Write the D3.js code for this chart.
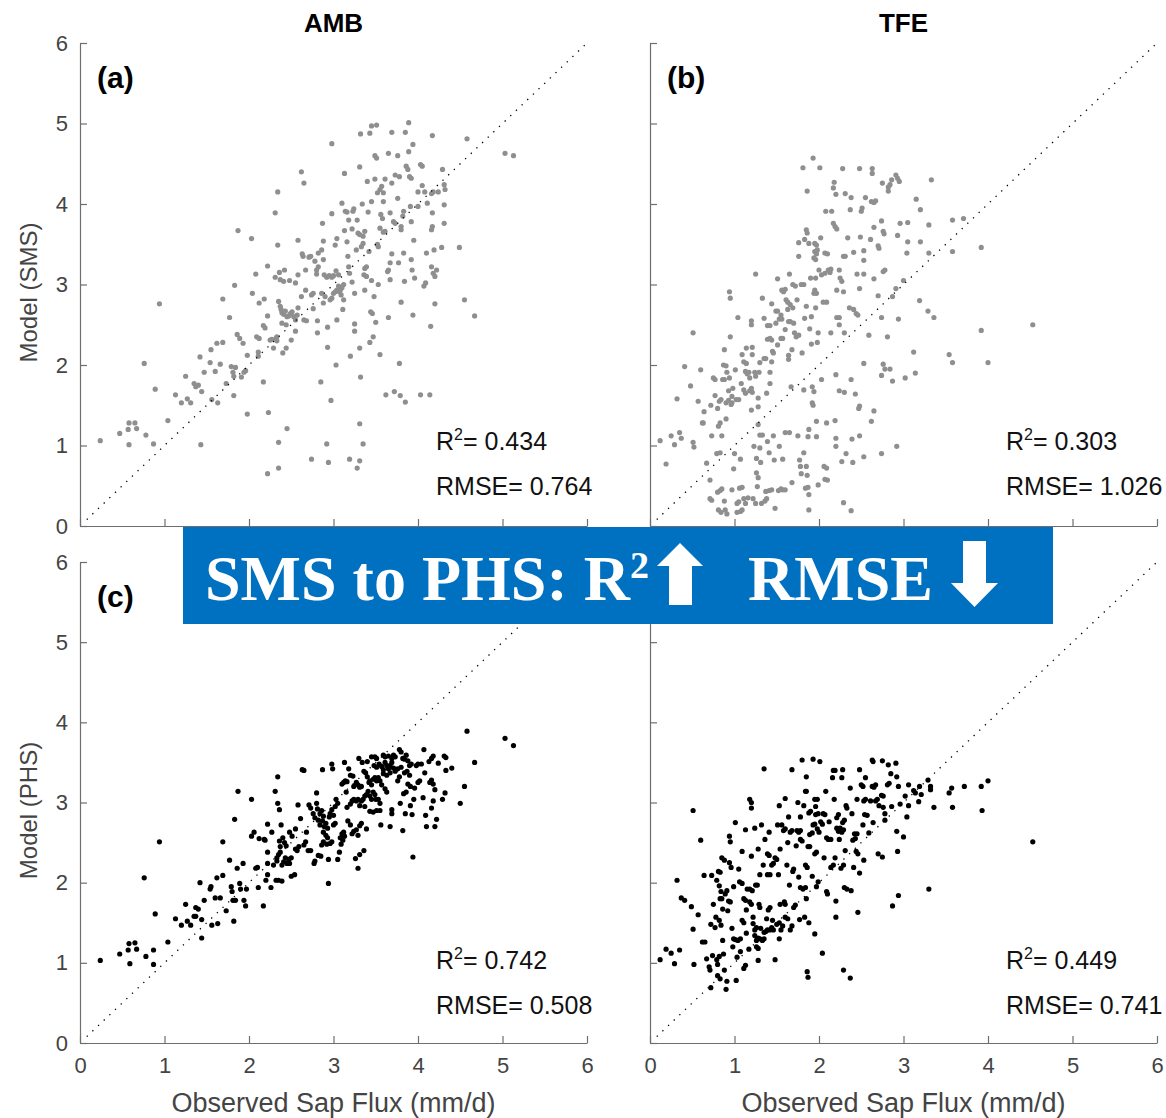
<!DOCTYPE html>
<html>
<head>
<meta charset="utf-8">
<script src="https://cdn.jsdelivr.net/npm/d3@7"></script>
<style>
  body { margin: 0; background: #fff; }
  svg { display: block; font-family: "Liberation Sans", Arial, sans-serif; }
</style>
</head>
<body>
<div id="chart"></div>
<script>
// Observed sap flux (x) vs model (y), mm/d
var ambSMS = [[0.24,1.06],[0.47,1.15],[0.58,1.28],[0.65,1.28],[0.57,1.20],[0.67,1.21],[0.58,1.01],[0.78,1.13],[0.87,1.02],[0.76,2.02],[0.89,1.70],[0.94,2.76],[1.04,1.31],[1.13,1.63],[1.20,1.53],[1.27,1.58],[1.31,1.53],[1.25,1.86],[1.35,1.77],[1.40,1.75],[1.37,1.73],[1.42,2.10],[1.44,1.67],[1.43,1.01],[1.47,1.91],[1.54,2.03],[1.55,2.19],[1.56,1.57],[1.60,1.92],[1.62,2.27],[1.63,1.53],[1.66,2.01],[1.69,2.28],[1.69,2.82],[1.73,1.77],[1.77,2.59],[1.79,1.98],[1.81,1.91],[1.84,1.97],[1.82,1.86],[1.82,1.62],[1.83,2.99],[1.86,2.38],[1.87,3.67],[1.89,2.33],[1.91,1.85],[1.94,1.91],[1.96,1.93],[1.93,2.27],[1.98,2.12],[1.98,1.39],[2.03,3.57],[2.04,2.89],[2.08,3.13],[2.11,2.11],[2.11,2.16],[2.09,2.35],[2.12,2.33],[2.12,2.77],[2.17,1.79],[2.17,2.49],[2.19,2.46],[2.18,2.82],[2.22,3.23],[2.22,0.65],[2.23,1.41],[2.22,2.61],[2.25,2.31],[2.27,2.32],[2.29,2.21],[2.31,3.89],[2.32,2.33],[2.33,2.35],[2.33,2.30],[2.34,4.15],[2.34,3.49],[2.35,1.04],[2.35,0.72],[2.31,3.09],[2.36,3.15],[2.42,3.18],[2.35,2.79],[2.37,2.73],[2.38,2.69],[2.39,2.65],[2.41,2.63],[2.43,2.67],[2.45,2.60],[2.47,2.61],[2.49,2.64],[2.51,2.66],[2.53,2.60],[2.55,2.56],[2.57,2.62],[2.58,2.71],[2.40,2.15],[2.44,2.21],[2.39,2.52],[2.44,2.50],[2.45,1.21],[2.37,3.06],[2.41,3.04],[2.48,3.05],[2.50,2.31],[2.55,2.42],[2.55,3.02],[2.58,3.12],[2.58,3.55],[2.63,3.38],[2.64,3.35],[2.62,4.40],[2.65,4.26],[2.62,2.85],[2.65,2.56],[2.68,2.55],[2.67,2.93],[2.67,3.18],[2.71,3.34],[2.73,3.35],[2.74,2.87],[2.76,2.89],[2.74,0.83],[2.76,2.70],[2.78,3.29],[2.80,3.18],[2.82,3.22],[2.80,3.13],[2.81,2.55],[2.81,2.40],[2.82,3.39],[2.86,3.43],[2.88,3.31],[2.85,1.79],[2.86,2.89],[2.87,3.76],[2.88,3.54],[2.88,2.77],[2.90,2.85],[2.89,3.12],[2.92,3.09],[2.95,3.11],[2.98,3.09],[3.00,3.11],[3.03,3.17],[3.06,3.12],[2.92,1.02],[2.93,2.22],[2.93,2.47],[2.94,0.79],[2.96,2.81],[2.98,2.83],[3.00,2.89],[3.02,2.91],[3.04,2.93],[3.06,2.98],[3.08,2.93],[3.10,2.96],[3.12,3.00],[2.97,1.56],[2.98,3.88],[2.98,4.75],[3.03,2.00],[3.04,3.57],[3.02,3.49],[3.04,2.56],[3.07,2.91],[3.09,2.87],[3.10,4.01],[3.11,2.69],[3.13,4.38],[3.12,2.81],[3.13,3.67],[3.14,3.91],[3.16,3.90],[3.16,3.53],[3.17,3.35],[3.18,3.22],[3.19,3.14],[3.18,3.80],[3.19,0.83],[3.20,2.11],[3.22,3.03],[3.22,3.69],[3.23,3.91],[3.24,3.94],[3.25,2.51],[3.25,2.89],[3.25,2.42],[3.27,3.43],[3.29,3.64],[3.31,3.62],[3.35,3.60],[3.37,3.66],[3.33,3.47],[3.35,3.51],[3.28,3.80],[3.28,0.72],[3.31,4.46],[3.31,1.27],[3.31,2.21],[3.31,0.81],[3.32,4.87],[3.32,1.85],[3.34,4.00],[3.35,1.02],[3.36,3.12],[3.39,3.10],[3.37,3.20],[3.39,3.22],[3.37,2.93],[3.40,4.28],[3.41,3.90],[3.42,3.41],[3.43,4.88],[3.43,2.28],[3.44,2.66],[3.46,2.64],[3.45,4.03],[3.45,3.05],[3.45,4.97],[3.47,2.35],[3.48,2.85],[3.49,4.60],[3.51,4.57],[3.49,4.31],[3.50,2.53],[3.51,4.98],[3.52,4.14],[3.52,3.50],[3.53,3.47],[3.53,3.00],[3.55,3.70],[3.55,4.18],[3.57,4.22],[3.59,4.14],[3.55,2.13],[3.56,3.87],[3.58,3.82],[3.59,3.65],[3.61,3.66],[3.59,4.03],[3.61,4.31],[3.62,1.63],[3.64,3.16],[3.65,3.18],[3.65,4.63],[3.65,2.59],[3.67,3.06],[3.67,3.89],[3.67,3.27],[3.69,4.89],[3.69,4.26],[3.69,3.38],[3.71,3.78],[3.73,3.76],[3.72,1.67],[3.73,4.36],[3.78,4.34],[3.76,4.07],[3.76,4.60],[3.77,3.27],[3.78,2.02],[3.79,1.62],[3.80,3.68],[3.80,3.72],[3.80,2.78],[3.82,3.85],[3.83,3.91],[3.83,3.39],[3.84,3.04],[3.85,1.54],[3.85,4.89],[3.86,4.47],[3.88,4.43],[3.90,4.34],[3.92,4.32],[3.89,4.65],[3.89,5.01],[3.91,3.97],[3.92,3.78],[3.92,3.31],[3.93,3.18],[3.94,4.74],[3.94,2.62],[3.95,3.55],[3.96,3.08],[4.00,4.15],[4.00,3.97],[4.03,4.49],[4.05,4.47],[4.03,1.63],[4.05,4.23],[4.07,2.98],[4.09,3.02],[4.08,4.15],[4.10,3.39],[4.11,4.01],[4.14,1.63],[4.15,2.48],[4.16,3.68],[4.17,3.72],[4.16,4.13],[4.18,4.15],[4.17,4.85],[4.17,3.89],[4.16,3.22],[4.18,3.14],[4.20,3.10],[4.19,3.43],[4.20,2.76],[4.22,3.18],[4.24,4.15],[4.28,3.46],[4.29,4.43],[4.31,4.24],[4.32,4.18],[4.31,3.99],[4.31,3.76],[4.49,3.46],[4.55,2.81],[4.58,4.81],[4.67,2.61],[5.03,4.63],[5.13,4.60]];

var tfeSMS = [[0.12,1.06],[0.19,0.77],[0.25,1.12],[0.29,1.01],[0.32,1.58],[0.35,1.16],[0.37,1.09],[0.41,1.98],[0.48,1.74],[0.51,2.40],[0.51,1.04],[0.52,0.98],[0.57,1.55],[0.60,1.94],[0.62,1.28],[0.63,1.28],[0.64,1.42],[0.67,0.78],[0.71,0.57],[0.71,0.34],[0.73,0.32],[0.72,1.50],[0.73,1.12],[0.75,1.84],[0.77,1.82],[0.77,1.62],[0.79,0.90],[0.80,0.42],[0.83,0.44],[0.85,0.46],[0.80,1.46],[0.82,1.55],[0.84,1.57],[0.81,1.24],[0.83,1.28],[0.81,0.20],[0.84,0.17],[0.89,0.20],[0.91,0.15],[0.83,0.91],[0.85,1.12],[0.86,1.82],[0.88,1.82],[0.87,2.00],[0.90,1.99],[0.88,2.19],[0.88,0.31],[0.90,1.33],[0.90,1.53],[0.93,1.56],[0.91,1.91],[0.93,1.68],[0.94,1.84],[0.94,2.91],[0.95,2.83],[0.95,2.35],[0.96,1.51],[0.97,1.53],[0.97,1.61],[0.97,0.45],[0.98,1.71],[0.99,0.71],[1.00,0.90],[1.01,1.94],[1.02,1.57],[1.05,1.57],[1.03,0.28],[1.05,0.30],[1.03,0.17],[1.07,0.18],[1.09,0.20],[1.04,2.59],[1.06,0.47],[1.09,0.48],[1.07,0.83],[1.08,1.77],[1.09,2.13],[1.11,2.04],[1.11,1.69],[1.13,1.65],[1.11,0.34],[1.13,0.28],[1.16,0.35],[1.13,1.92],[1.15,1.89],[1.17,1.91],[1.14,2.02],[1.14,2.21],[1.18,1.84],[1.18,1.68],[1.20,1.71],[1.21,1.66],[1.20,2.55],[1.20,2.50],[1.20,1.44],[1.21,2.13],[1.21,2.22],[1.22,0.34],[1.25,0.28],[1.23,0.99],[1.24,1.91],[1.25,3.13],[1.25,1.86],[1.26,0.84],[1.26,0.66],[1.28,0.60],[1.27,0.49],[1.28,1.48],[1.28,1.59],[1.28,1.26],[1.29,1.91],[1.30,0.97],[1.30,2.03],[1.30,1.13],[1.33,1.13],[1.31,0.79],[1.32,0.28],[1.33,2.83],[1.35,2.58],[1.35,2.08],[1.37,2.08],[1.36,0.31],[1.38,0.34],[1.37,0.43],[1.38,1.65],[1.39,1.05],[1.39,2.49],[1.42,2.49],[1.39,2.32],[1.42,2.33],[1.44,2.31],[1.41,0.44],[1.44,0.45],[1.41,0.91],[1.42,1.91],[1.42,1.77],[1.44,2.04],[1.44,2.76],[1.45,2.17],[1.46,2.15],[1.46,1.12],[1.47,0.82],[1.48,0.22],[1.49,2.67],[1.51,2.67],[1.49,2.52],[1.51,3.07],[1.51,2.25],[1.52,0.44],[1.55,0.46],[1.57,0.45],[1.60,0.45],[1.53,0.99],[1.53,2.57],[1.55,2.62],[1.56,2.57],[1.55,2.33],[1.57,2.33],[1.57,0.83],[1.56,2.93],[1.58,2.91],[1.60,2.94],[1.60,1.16],[1.65,1.16],[1.60,2.44],[1.61,2.81],[1.63,2.78],[1.63,2.69],[1.64,2.12],[1.64,2.07],[1.64,2.54],[1.66,2.54],[1.65,3.13],[1.66,2.75],[1.69,2.71],[1.67,1.73],[1.68,0.54],[1.68,2.19],[1.69,3.00],[1.72,2.98],[1.70,2.52],[1.71,2.40],[1.73,2.35],[1.76,2.37],[1.74,2.81],[1.75,1.12],[1.76,3.35],[1.76,3.52],[1.77,0.82],[1.78,0.74],[1.79,0.65],[1.79,3.00],[1.82,3.00],[1.80,2.15],[1.81,4.45],[1.82,1.69],[1.82,0.91],[1.83,2.58],[1.83,3.56],[1.84,0.47],[1.85,0.74],[1.85,2.73],[1.85,3.68],[1.86,3.64],[1.86,4.16],[1.86,0.63],[1.87,0.48],[1.88,1.20],[1.87,1.11],[1.88,0.39],[1.88,0.20],[1.88,3.51],[1.89,2.45],[1.90,3.08],[1.91,2.60],[1.91,2.26],[1.92,1.73],[1.94,1.67],[1.92,1.53],[1.93,1.50],[1.93,4.57],[1.94,3.33],[1.96,3.31],[1.98,3.43],[1.95,3.41],[1.97,3.38],[1.95,3.51],[1.97,3.49],[1.94,2.89],[1.95,2.93],[1.97,2.89],[1.96,2.71],[1.96,3.08],[1.97,1.11],[1.97,1.30],[1.98,2.28],[1.99,2.40],[2.00,3.18],[1.99,0.51],[2.01,4.45],[2.02,3.58],[2.03,1.82],[2.03,3.12],[2.07,3.14],[2.11,3.18],[2.14,3.19],[2.05,2.78],[2.09,2.78],[2.06,0.74],[2.09,0.72],[2.07,0.58],[2.10,0.57],[2.07,3.39],[2.10,3.38],[2.08,3.91],[2.15,3.91],[2.09,1.28],[2.13,3.15],[2.14,2.40],[2.17,3.76],[2.19,3.72],[2.18,4.27],[2.17,4.20],[2.20,4.12],[2.19,1.31],[2.20,1.09],[2.20,0.99],[2.20,1.88],[2.21,2.93],[2.21,3.69],[2.21,2.59],[2.24,2.59],[2.24,3.18],[2.25,3.08],[2.27,3.04],[2.24,2.50],[2.24,1.68],[2.30,1.66],[2.27,0.80],[2.28,4.44],[2.29,3.35],[2.31,3.35],[2.29,2.91],[2.29,0.29],[2.30,2.40],[2.31,4.13],[2.32,0.90],[2.34,3.58],[2.36,2.71],[2.41,2.69],[2.37,3.93],[2.38,0.19],[2.38,1.82],[2.38,4.08],[2.39,1.08],[2.40,0.79],[2.41,3.40],[2.43,1.64],[2.44,2.64],[2.46,2.62],[2.45,3.13],[2.53,3.13],[2.47,1.46],[2.48,1.49],[2.48,4.44],[2.48,1.12],[2.48,2.95],[2.50,3.91],[2.51,3.95],[2.49,3.59],[2.53,0.86],[2.53,3.30],[2.53,3.42],[2.53,2.02],[2.55,4.08],[2.59,2.37],[2.61,3.56],[2.62,1.30],[2.62,4.03],[2.65,4.02],[2.67,4.04],[2.63,4.44],[2.63,4.38],[2.65,1.43],[2.65,3.07],[2.65,3.71],[2.70,3.48],[2.71,3.45],[2.70,2.86],[2.74,3.79],[2.74,2.59],[2.74,0.90],[2.74,1.87],[2.75,4.26],[2.76,3.16],[2.76,3.66],[2.77,3.63],[2.76,2.01],[2.78,1.95],[2.84,1.95],[2.78,3.18],[2.81,2.35],[2.82,4.21],[2.82,4.16],[2.84,4.24],[2.86,4.30],[2.87,1.80],[2.87,2.85],[2.91,4.36],[2.93,4.32],[2.95,4.28],[2.91,2.95],[2.92,0.99],[2.93,3.61],[2.94,2.57],[2.96,3.76],[3.00,3.05],[3.02,1.84],[3.04,3.39],[3.05,3.53],[3.05,3.77],[3.12,2.16],[3.14,1.90],[3.15,4.06],[3.19,2.80],[3.20,3.93],[3.20,3.53],[3.29,2.67],[3.36,2.59],[3.30,3.74],[3.30,3.39],[3.33,4.30],[3.54,2.13],[3.58,2.03],[3.58,3.80],[3.58,3.41],[3.71,3.82],[3.92,2.43],[3.92,3.46],[4.00,2.03],[4.53,2.50]];

var ambPHS = [[0.24,1.03],[0.47,1.11],[0.58,1.24],[0.65,1.25],[0.57,1.16],[0.67,1.17],[0.59,0.99],[0.78,1.08],[0.87,1.16],[0.87,0.98],[0.76,2.06],[0.89,1.61],[0.94,2.51],[1.04,1.26],[1.13,1.55],[1.20,1.47],[1.27,1.52],[1.31,1.47],[1.25,1.73],[1.35,1.58],[1.37,1.58],[1.37,1.69],[1.40,1.67],[1.42,2.00],[1.44,1.31],[1.44,1.54],[1.47,1.78],[1.54,1.92],[1.55,1.95],[1.56,1.47],[1.60,1.81],[1.62,2.06],[1.63,1.49],[1.66,1.81],[1.69,2.09],[1.69,2.51],[1.73,1.65],[1.77,2.28],[1.79,1.95],[1.80,1.89],[1.81,1.78],[1.84,1.78],[1.82,1.52],[1.83,2.79],[1.86,2.18],[1.87,3.14],[1.89,1.99],[1.90,1.92],[1.93,2.24],[1.94,1.78],[1.96,1.71],[1.97,1.92],[2.03,3.04],[2.03,2.58],[2.06,2.63],[2.08,2.18],[2.10,2.19],[2.11,1.94],[2.12,2.55],[2.17,1.71],[2.18,2.54],[2.19,2.53],[2.20,2.03],[2.22,2.73],[2.22,2.24],[2.22,2.10],[2.22,2.38],[2.26,1.94],[2.27,2.63],[2.29,2.22],[2.31,3.14],[2.32,2.03],[2.35,2.03],[2.39,2.02],[2.33,2.31],[2.33,2.27],[2.35,2.35],[2.37,2.38],[2.37,2.45],[2.36,2.52],[2.34,3.32],[2.34,2.99],[2.36,2.91],[2.38,2.72],[2.39,2.22],[2.41,2.26],[2.43,2.31],[2.45,2.24],[2.47,2.29],[2.48,2.24],[2.50,2.31],[2.40,2.56],[2.42,2.50],[2.44,2.46],[2.48,2.63],[2.51,2.58],[2.50,2.08],[2.54,2.10],[2.55,2.42],[2.57,2.40],[2.59,2.45],[2.55,2.67],[2.58,2.97],[2.61,2.80],[2.63,3.41],[2.65,3.40],[2.65,2.47],[2.67,2.51],[2.68,2.63],[2.70,2.40],[2.73,2.40],[2.71,2.97],[2.73,2.93],[2.76,2.86],[2.78,2.81],[2.80,2.99],[2.81,2.92],[2.84,2.86],[2.86,2.90],[2.88,2.83],[2.77,2.24],[2.78,2.27],[2.80,3.12],[2.82,2.78],[2.84,2.72],[2.87,2.77],[2.89,2.70],[2.91,2.74],[2.93,2.68],[2.95,2.82],[2.82,2.34],[2.85,2.33],[2.87,3.41],[2.88,2.63],[2.91,2.59],[2.93,2.56],[2.86,2.47],[2.88,2.51],[2.92,2.48],[2.96,2.49],[2.98,2.51],[2.94,1.99],[2.94,2.29],[2.96,2.86],[2.98,2.91],[3.00,2.84],[3.02,2.95],[2.98,3.48],[2.99,3.42],[3.00,2.72],[3.02,2.74],[3.03,3.04],[3.05,2.99],[3.05,2.29],[3.07,2.38],[3.08,2.56],[3.10,2.61],[3.12,2.63],[3.13,2.58],[3.09,2.48],[3.11,2.53],[3.10,3.23],[3.12,3.25],[3.14,3.27],[3.16,3.26],[3.13,3.50],[3.15,3.13],[3.16,2.94],[3.20,2.98],[3.22,3.02],[3.24,3.04],[3.27,3.02],[3.29,3.04],[3.31,2.96],[3.33,3.02],[3.35,3.04],[3.37,2.95],[3.17,2.77],[3.20,2.72],[3.22,2.61],[3.24,2.64],[3.27,2.66],[3.29,2.59],[3.31,2.71],[3.33,2.74],[3.18,3.42],[3.20,3.34],[3.23,3.33],[3.24,3.20],[3.27,3.25],[3.29,3.22],[3.31,3.19],[3.33,3.20],[3.26,2.30],[3.29,2.18],[3.30,3.55],[3.31,2.35],[3.36,2.40],[3.34,3.50],[3.36,3.39],[3.38,3.37],[3.40,3.32],[3.37,3.08],[3.39,3.10],[3.41,3.14],[3.43,3.08],[3.45,3.04],[3.47,3.13],[3.49,3.10],[3.50,3.04],[3.39,2.67],[3.40,3.51],[3.42,3.25],[3.43,3.27],[3.45,3.22],[3.47,3.29],[3.49,3.31],[3.51,3.27],[3.53,3.31],[3.55,3.27],[3.57,3.22],[3.43,2.89],[3.47,2.88],[3.51,2.90],[3.55,2.90],[3.45,3.57],[3.49,3.57],[3.51,3.55],[3.48,3.46],[3.51,3.44],[3.54,3.48],[3.57,3.45],[3.59,3.41],[3.61,3.50],[3.63,3.46],[3.65,3.42],[3.67,3.46],[3.69,3.50],[3.71,3.43],[3.53,3.04],[3.55,2.99],[3.56,2.72],[3.59,3.59],[3.61,3.57],[3.65,3.58],[3.59,3.36],[3.63,3.34],[3.67,3.37],[3.61,3.17],[3.63,3.13],[3.67,2.70],[3.69,2.86],[3.69,2.91],[3.69,3.55],[3.71,3.59],[3.73,3.57],[3.73,3.39],[3.76,3.42],[3.80,3.44],[3.76,3.27],[3.78,3.32],[3.78,3.66],[3.80,3.63],[3.79,2.99],[3.82,3.55],[3.84,3.54],[3.86,3.59],[3.88,3.52],[3.82,2.65],[3.83,3.11],[3.86,3.13],[3.84,3.37],[3.87,3.39],[3.90,3.34],[3.85,2.86],[3.88,3.23],[3.91,3.20],[3.90,3.46],[3.92,3.48],[3.91,2.96],[3.93,2.85],[3.94,2.32],[3.95,3.04],[3.96,3.18],[3.98,3.46],[4.00,3.48],[4.04,3.48],[4.00,3.25],[4.02,3.27],[4.06,3.06],[4.07,3.66],[4.08,3.37],[4.09,2.84],[4.10,2.70],[4.13,3.51],[4.16,3.55],[4.18,3.58],[4.14,3.25],[4.16,3.28],[4.18,3.23],[4.16,2.93],[4.18,3.02],[4.20,3.16],[4.20,2.70],[4.22,2.79],[4.24,3.49],[4.29,3.04],[4.31,3.58],[4.33,3.56],[4.32,3.12],[4.33,3.40],[4.40,3.43],[4.50,2.99],[4.55,3.20],[4.58,3.89],[4.67,3.50],[5.03,3.80],[5.13,3.71]];

var tfePHS = [[0.12,1.04],[0.19,1.17],[0.25,1.12],[0.29,0.99],[0.32,2.03],[0.35,1.16],[0.37,1.81],[0.41,1.78],[0.49,1.70],[0.51,2.90],[0.51,1.42],[0.52,0.98],[0.57,1.60],[0.60,2.53],[0.62,1.26],[0.65,1.26],[0.64,2.09],[0.67,1.05],[0.70,0.95],[0.71,0.91],[0.72,1.48],[0.72,0.69],[0.73,2.09],[0.74,1.09],[0.75,1.73],[0.77,1.44],[0.78,1.57],[0.79,1.04],[0.80,0.98],[0.82,1.08],[0.79,2.03],[0.82,1.96],[0.84,1.89],[0.80,0.84],[0.83,0.80],[0.81,2.14],[0.83,2.13],[0.82,1.53],[0.83,1.80],[0.85,1.80],[0.84,1.47],[0.85,2.31],[0.88,2.28],[0.86,1.67],[0.86,1.28],[0.87,1.11],[0.88,0.91],[0.89,1.86],[0.91,1.90],[0.90,0.67],[0.91,0.77],[0.92,1.65],[0.93,1.77],[0.95,1.76],[0.94,2.25],[0.94,2.58],[0.95,2.51],[0.96,2.19],[0.97,1.43],[0.98,1.20],[0.99,1.30],[1.01,1.29],[0.99,1.95],[1.01,2.75],[1.02,0.78],[1.03,1.07],[1.04,1.28],[1.07,1.30],[1.05,2.17],[1.06,2.01],[1.09,1.99],[1.07,1.14],[1.09,1.53],[1.11,1.50],[1.09,2.39],[1.11,0.93],[1.13,0.97],[1.11,1.80],[1.13,1.78],[1.13,2.66],[1.14,1.37],[1.14,1.66],[1.15,1.92],[1.18,1.92],[1.21,1.90],[1.17,1.17],[1.18,1.76],[1.20,1.73],[1.18,3.04],[1.20,3.00],[1.20,2.93],[1.20,2.33],[1.22,1.49],[1.24,1.41],[1.26,1.44],[1.22,1.57],[1.24,1.34],[1.26,1.28],[1.28,1.31],[1.30,1.30],[1.24,2.68],[1.25,1.97],[1.27,1.97],[1.26,1.20],[1.28,1.18],[1.28,1.03],[1.28,2.42],[1.29,1.73],[1.30,1.69],[1.30,2.10],[1.31,1.43],[1.32,2.72],[1.33,1.28],[1.35,1.30],[1.34,2.22],[1.35,1.38],[1.37,1.39],[1.39,1.41],[1.35,3.42],[1.36,2.54],[1.38,1.55],[1.39,2.36],[1.41,2.34],[1.39,2.10],[1.42,2.10],[1.40,1.66],[1.42,1.69],[1.41,2.63],[1.42,1.41],[1.44,1.44],[1.46,1.41],[1.44,2.22],[1.46,2.24],[1.45,1.53],[1.48,1.04],[1.48,2.31],[1.50,2.29],[1.50,1.48],[1.53,1.50],[1.51,2.72],[1.52,2.10],[1.53,1.30],[1.53,2.96],[1.54,1.73],[1.54,2.42],[1.55,1.41],[1.57,1.46],[1.56,2.72],[1.58,2.65],[1.60,2.67],[1.59,1.76],[1.60,1.73],[1.60,3.05],[1.60,1.57],[1.63,1.55],[1.62,2.22],[1.63,2.50],[1.64,2.82],[1.65,1.97],[1.66,1.41],[1.68,1.46],[1.66,2.63],[1.68,2.65],[1.68,3.41],[1.69,2.14],[1.70,2.17],[1.70,1.69],[1.72,1.72],[1.73,2.46],[1.74,2.65],[1.76,2.63],[1.78,2.65],[1.75,3.00],[1.76,2.07],[1.77,1.54],[1.78,2.82],[1.78,2.54],[1.80,2.52],[1.78,1.94],[1.81,1.92],[1.84,1.94],[1.80,3.53],[1.82,2.96],[1.83,1.57],[1.84,3.14],[1.85,3.14],[1.84,2.22],[1.86,2.19],[1.85,3.32],[1.85,1.80],[1.86,0.89],[1.87,0.82],[1.87,2.45],[1.89,2.45],[1.88,2.87],[1.90,2.89],[1.88,1.50],[1.89,2.60],[1.92,2.62],[1.92,2.08],[1.93,3.54],[1.93,2.72],[1.95,2.73],[1.95,2.36],[1.97,2.38],[1.95,3.04],[1.98,3.04],[1.96,2.95],[1.95,1.36],[1.96,2.85],[1.99,2.86],[1.97,1.95],[1.99,2.01],[1.98,2.67],[2.00,2.63],[2.01,3.51],[2.02,2.76],[2.04,2.73],[2.04,1.12],[2.05,2.86],[2.07,2.85],[2.06,2.31],[2.08,3.14],[2.09,2.56],[2.11,2.54],[2.14,2.54],[2.09,1.89],[2.10,1.86],[2.12,2.76],[2.14,2.19],[2.17,2.22],[2.16,3.31],[2.17,3.40],[2.19,3.40],[2.18,3.04],[2.19,2.31],[2.20,1.77],[2.20,1.57],[2.21,2.81],[2.23,2.85],[2.21,2.68],[2.23,2.64],[2.25,2.68],[2.27,2.63],[2.29,2.66],[2.24,2.54],[2.26,2.18],[2.29,2.22],[2.27,3.31],[2.28,3.41],[2.28,2.75],[2.30,2.78],[2.29,0.91],[2.30,1.94],[2.33,1.92],[2.31,2.40],[2.32,2.96],[2.33,2.93],[2.37,3.18],[2.37,0.81],[2.38,1.90],[2.39,2.86],[2.40,2.53],[2.43,2.55],[2.41,2.19],[2.42,2.61],[2.45,2.61],[2.44,2.39],[2.46,2.36],[2.45,3.04],[2.46,1.63],[2.48,3.41],[2.48,2.12],[2.50,3.22],[2.52,3.20],[2.52,2.72],[2.53,2.28],[2.53,3.02],[2.55,3.04],[2.54,2.85],[2.57,2.84],[2.55,3.31],[2.59,2.62],[2.61,3.02],[2.63,3.53],[2.64,3.51],[2.63,3.20],[2.65,3.19],[2.67,3.22],[2.64,2.75],[2.67,3.02],[2.69,3.04],[2.70,2.36],[2.75,2.32],[2.71,2.96],[2.74,3.09],[2.76,3.08],[2.75,3.52],[2.76,2.94],[2.78,2.86],[2.78,2.78],[2.81,3.22],[2.83,3.24],[2.82,3.47],[2.85,3.36],[2.86,2.95],[2.87,1.71],[2.91,3.49],[2.92,3.32],[2.92,2.64],[2.93,2.39],[2.94,3.20],[2.94,1.84],[2.96,2.98],[3.00,2.57],[3.02,3.08],[3.04,2.82],[3.06,3.22],[3.06,2.96],[3.12,3.15],[3.14,3.12],[3.18,3.01],[3.19,3.20],[3.21,3.10],[3.29,3.28],[3.32,3.16],[3.32,3.20],[3.30,1.92],[3.36,2.94],[3.54,3.12],[3.57,3.18],[3.58,2.94],[3.72,3.20],[3.92,3.20],[3.93,2.90],[4.00,3.27],[4.53,2.51]];

var tickValues = [0, 1, 2, 3, 4, 5, 6];
var columnTitles = ["AMB", "TFE"];
var panelLetters = ["(a)", "(b)", "(c)", "(d)"];
var r2Values = ["0.434", "0.303", "0.742", "0.449"];
var rmseValues = ["0.764", "1.026", "0.508", "0.741"];
var yLabels = ["Model (SMS)", "Model (PHS)"];
var xLabel = "Observed Sap Flux (mm/d)";

//---------------------------------------------------------------------
var svg = d3.select("#chart").append("svg").attr("width", 1166).attr("height", 1118);

var colLeft = [80, 650], panelW = 507;
var rowTop = [43, 562], rowH = [483, 481];

var panels = [
  {data: ambSMS, row: 0, col: 0, fill: "#8f8f8f"},
  {data: tfeSMS, row: 0, col: 1, fill: "#8f8f8f"},
  {data: ambPHS, row: 1, col: 0, fill: "#000"},
  {data: tfePHS, row: 1, col: 1, fill: "#000"}
];

panels.forEach(function(p, i) {
  var x0 = colLeft[p.col], y0 = rowTop[p.row], h = rowH[p.row];
  var x = d3.scaleLinear().domain([0, 6]).range([x0, x0 + panelW]);
  var y = d3.scaleLinear().domain([0, 6]).range([y0 + h, y0]);
  var g = svg.append("g");

  // axes, ticks pointing inward like matlab
  var xAxis = d3.axisBottom(x).tickValues(tickValues).tickSizeInner(-7).tickSizeOuter(0).tickPadding(14)
    .tickFormat(p.row === 1 ? d3.format("d") : function() { return ""; });
  var yAxis = d3.axisLeft(y).tickValues(tickValues).tickSizeInner(-7).tickSizeOuter(0).tickPadding(12)
    .tickFormat(p.col === 0 ? d3.format("d") : function() { return ""; });

  var gx = g.append("g").attr("transform", "translate(0," + (y0 + h) + ")").call(xAxis);
  var gy = g.append("g").attr("transform", "translate(" + x0 + ",0)").call(yAxis);
  [gx, gy].forEach(function(a) {
    a.attr("font-family", null).attr("font-size", 22);
    a.selectAll("path, line").attr("stroke", "#6e6e6e").attr("stroke-width", 1.2);
    a.selectAll("text").attr("fill", "#444");
  });

  // points
  g.append("g").selectAll("circle").data(p.data).enter().append("circle")
    .attr("cx", function(d) { return x(d[0]); })
    .attr("cy", function(d) { return y(d[1]); })
    .attr("r", 2.6)
    .attr("fill", p.fill);

  // 1:1 line
  g.append("line")
    .attr("x1", x(0.08)).attr("y1", y(0.08)).attr("x2", x(6)).attr("y2", y(6))
    .attr("stroke", "#000").attr("stroke-width", 1.3).attr("stroke-dasharray", "1.3,6.5");

  // panel letter
  g.append("text").attr("x", x0 + 17).attr("y", y0 + 45)
    .attr("font-size", 30).attr("font-weight", "bold").attr("fill", "#000")
    .text(panelLetters[i]);

  // stats
  var st = g.append("text").attr("x", x0 + 356).attr("y", y0 + 407).attr("font-size", 25).attr("fill", "#111");
  st.append("tspan").text("R");
  st.append("tspan").attr("dy", -10).attr("font-size", 16).text("2");
  st.append("tspan").attr("dy", 10).text("= " + r2Values[i]);
  g.append("text").attr("x", x0 + 356).attr("y", y0 + 452).attr("font-size", 25).attr("fill", "#111")
    .text("RMSE= " + rmseValues[i]);
});

// column titles
columnTitles.forEach(function(t, c) {
  svg.append("text").attr("x", colLeft[c] + panelW / 2).attr("y", 32)
    .attr("text-anchor", "middle").attr("font-size", 26).attr("font-weight", "bold").attr("fill", "#000")
    .text(t);
});

// axis labels
yLabels.forEach(function(t, r) {
  svg.append("text")
    .attr("transform", "translate(37," + (rowTop[r] + rowH[r] / 2 + 8) + ") rotate(-90)")
    .attr("text-anchor", "middle").attr("font-size", 24).attr("fill", "#444")
    .text(t);
});
colLeft.forEach(function(l) {
  svg.append("text").attr("x", l + panelW / 2).attr("y", 1112)
    .attr("text-anchor", "middle").attr("font-size", 27).attr("fill", "#444")
    .text(xLabel);
});

// blue banner
var banner = svg.append("g");
banner.append("rect").attr("x", 183).attr("y", 527).attr("width", 870).attr("height", 97).attr("fill", "#0070c0");
var bt = banner.append("text").attr("x", 205).attr("y", 600)
  .attr("font-family", "'Liberation Serif', 'Times New Roman', serif").attr("font-weight", "bold")
  .attr("font-size", 64).attr("fill", "#fff");
bt.append("tspan").text("SMS to PHS: R");
bt.append("tspan").attr("dy", -22).attr("font-size", 38).text("2");
banner.append("text").attr("x", 748).attr("y", 600)
  .attr("font-family", "'Liberation Serif', 'Times New Roman', serif").attr("font-weight", "bold")
  .attr("font-size", 64).attr("fill", "#fff").text("RMSE");
// block arrows
banner.append("path").attr("fill", "#fff")
  .attr("d", "M680,543 L703,566 L692,566 L692,605 L669,605 L669,566 L657,566 Z");
banner.append("path").attr("fill", "#fff")
  .attr("d", "M963,541 L986,541 L986,583 L998,583 L974.5,607 L951,583 L963,583 Z");
</script>
</body>
</html>
